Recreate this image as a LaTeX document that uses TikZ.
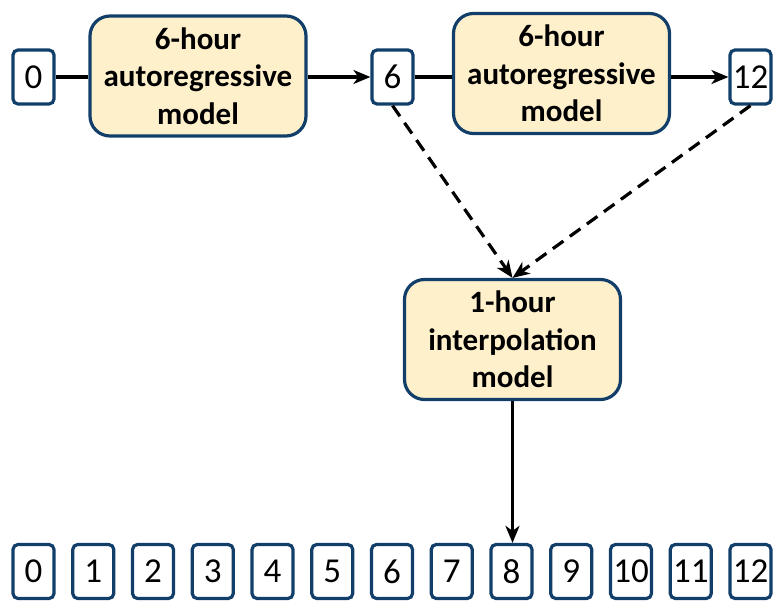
\documentclass[tikz,border=0pt]{standalone}
\usepackage{fontspec}
\setmainfont{Carlito}
\usetikzlibrary{arrows.meta}
\definecolor{edgeblue}{HTML}{123F6A}
\definecolor{modelfill}{HTML}{FFF0CC}
\tikzset{
  numbox/.style={draw=edgeblue, line width=3.2pt, rounded corners=5pt, fill=white,
    minimum width=41pt, minimum height=54pt, inner sep=0pt, font=\fontsize{35}{36}\selectfont},
  modelbox/.style={draw=edgeblue, line width=3.2pt, rounded corners=20pt, fill=modelfill,
    minimum width=216pt, minimum height=120pt, inner sep=0pt, align=center,
    font=\bfseries\fontsize{31}{37.5}\selectfont},
  conn/.style={line width=3.2pt, black},
  arr/.style={conn, -{Stealth[length=17pt,width=14pt,inset=5pt]}},
  darr/.style={arr, dash pattern=on 13pt off 8pt}
}
\begin{document}
\begin{tikzpicture}[x=1pt,y=-1pt]
\useasboundingbox (0,0) rectangle (776,601);
\node[numbox] (t0) at (33.5,77) {0};
\node[modelbox] (ar1) at (198,76) {6-hour\\autoregressive\\model};
\node[numbox] (t6) at (392.5,77) {6};
\node[modelbox] (ar2) at (561.5,73.5) {6-hour\\autoregressive\\model};
\node[numbox] (t12) at (750.5,77) {12};
\node[modelbox] (interp) at (512.5,339.5) {1-hour\\interpolation\\model};
\foreach \i in {0,...,12} {
  \node[numbox] (b\i) at ({33.5+59.75*\i},571.5) {\i};
}
\draw[conn] (t0) -- (t0 -| ar1.west);
\draw[arr] (ar1.east |- t6) -- (t6);
\draw[conn] (t6) -- (t6 -| ar2.west);
\draw[arr] (ar2.east |- t12) -- (t12);
\draw[darr] (t6.south) -- (interp.north);
\draw[darr] (t12.south) -- (interp.north);
\draw[arr] (interp.south) -- (interp.south |- b8.north);
\end{tikzpicture}
\end{document}
